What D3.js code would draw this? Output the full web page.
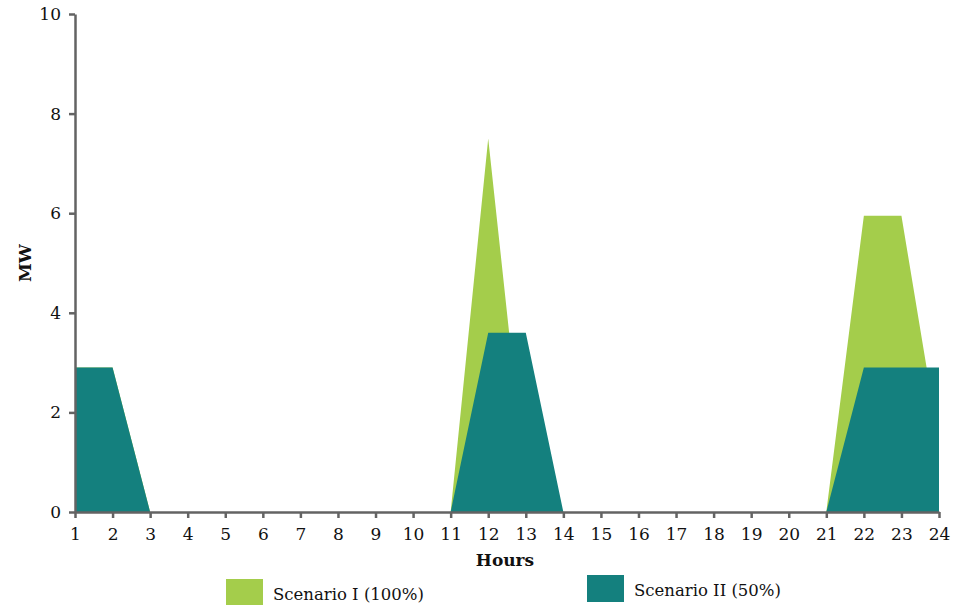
<!DOCTYPE html>
<html><head><meta charset="utf-8">
<script src="https://cdn.jsdelivr.net/npm/d3@7"></script>
<style>body{margin:0;background:#fff}svg{display:block}text{font-family:"DejaVu Serif",serif;fill:#111}</style>
</head><body><svg id="c" width="957" height="605"></svg>
<script>
const hours = d3.range(1, 25);
const scenario1 = [2.9,2.9,0,0,0,0,0,0,0,0,0,7.5,0.5,0,0,0,0,0,0,0,0,5.95,5.95,1.4];
const scenario2 = [2.9,2.9,0,0,0,0,0,0,0,0,0,3.6,3.6,0,0,0,0,0,0,0,0,2.9,2.9,2.9];
const yTicks = [0,2,4,6,8,10];
const seriesNames = ["Scenario I (100%)", "Scenario II (50%)"];
const colors = ["#a4cd4b", "#14807e"];

const svg = d3.select("#c");
const x = d3.scaleLinear().domain([1,24]).range([75,939]);
const y = d3.scaleLinear().domain([0,10]).range([512,14]);

const area = d3.area().x((d,i)=>x(hours[i])).y0(y(0)).y1(d=>y(d));
[scenario1, scenario2].forEach((s,k)=>{
  svg.append("path").datum(s).attr("d", area).attr("fill", colors[k]);
});

const ax = svg.append("g").attr("transform",`translate(0,${y(0)})`)
  .call(d3.axisBottom(x).tickValues(hours).tickFormat(d3.format("d")).tickSize(6).tickSizeOuter(0));
const ay = svg.append("g").attr("transform",`translate(${x(1)},0)`)
  .call(d3.axisLeft(y).tickValues(yTicks).tickSize(6).tickSizeOuter(0));
[ax, ay].forEach(g=>{
  g.select(".domain").attr("stroke","#636363").attr("stroke-width",2.5);
  g.selectAll(".tick line").attr("stroke","#636363").attr("stroke-width",2.5);
  g.selectAll(".tick text").attr("font-family","DejaVu Serif").attr("font-size",17).attr("fill","#111");
});
ax.selectAll(".tick text").attr("dy","0.71em").attr("y",16);
ay.selectAll(".tick text").attr("x",-14);

svg.append("text").attr("x",505).attr("y",566).attr("text-anchor","middle")
  .attr("font-weight","bold").attr("font-size",17).text("Hours");
svg.append("text").attr("transform","translate(31,263) rotate(-90)").attr("text-anchor","middle")
  .attr("font-weight","bold").attr("font-size",17).text("MW");

const legend = [{x:226,y:579},{x:587,y:575}];
legend.forEach((p,k)=>{
  svg.append("rect").attr("x",p.x).attr("y",p.y).attr("width",37).attr("height",27).attr("fill",colors[k]);
  svg.append("text").attr("x",p.x+47).attr("y",p.y+21).attr("font-size",16.5).text(seriesNames[k]);
});
</script></body></html>
